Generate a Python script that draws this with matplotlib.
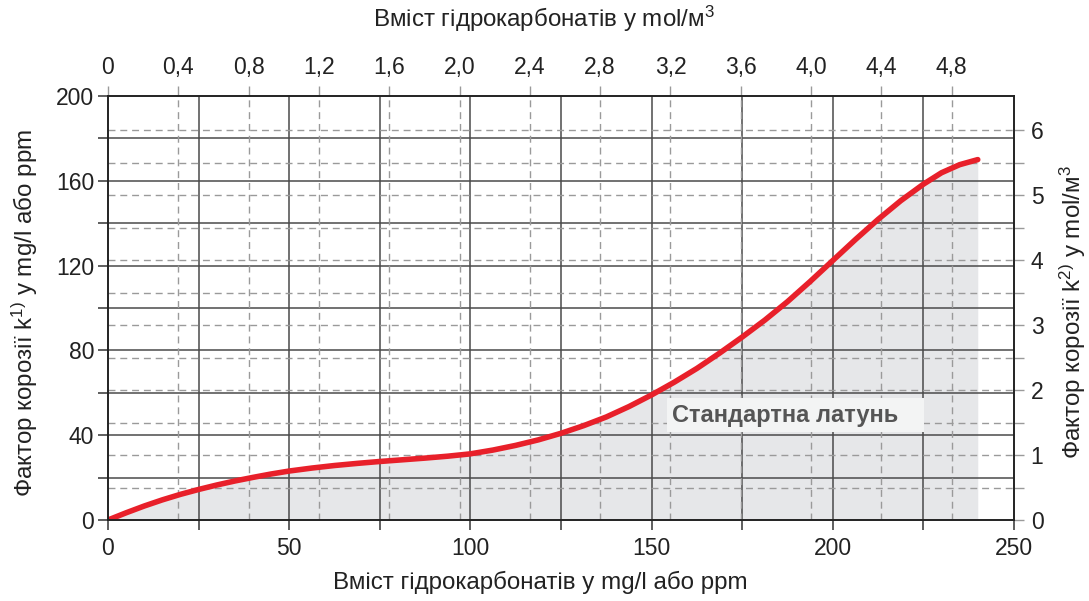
import numpy as np
import matplotlib
matplotlib.use("Agg")
import matplotlib.pyplot as plt
from matplotlib.patches import Rectangle

plt.rcParams['font.family'] = ['Liberation Sans', 'DejaVu Sans']
plt.rcParams['mathtext.fontset'] = 'custom'
plt.rcParams['mathtext.rm'] = 'Liberation Sans'
plt.rcParams['mathtext.it'] = 'Liberation Sans:italic'

# bicarbonate content (mg/l) vs corrosion factor k (mg/l), standard brass
hco3_mg = [0, 5, 10, 15, 20, 25, 30, 35, 40, 45, 50, 56.25, 62.5, 68.75, 75,
           81.25, 87.5, 93.75, 100, 106.25, 112.5, 118.75, 125, 131.25, 137.5,
           143.75, 150, 156.25, 162.5, 168.75, 175, 181.25, 187.5, 193.75, 200,
           206.25, 212.5, 218.75, 225, 230, 235, 240]
k_mg = [0, 3.4, 6.6, 9.5, 12.1, 14.4, 16.5, 18.4, 20.1, 21.7, 23.1, 24.5, 25.7,
        26.7, 27.6, 28.4, 29.2, 30.1, 31.2, 33.0, 35.2, 37.8, 40.9, 44.5, 48.6,
        53.5, 59.0, 65.0, 71.5, 78.7, 86.3, 94.3, 103.0, 112.5, 122.4,
        132.3, 141.8, 150.6, 158.4, 163.8, 167.6, 170.0]

MG_PER_MOL = 48.5      # top axis scale
K_MG_PER_MOL = 30.66   # right axis scale

top_ticks = np.arange(0, 5.0, 0.4)
top_labels = ["0", "0,4", "0,8", "1,2", "1,6", "2,0", "2,4", "2,8", "3,2",
              "3,6", "4,0", "4,4", "4,8"]
right_ticks = np.arange(0, 6.01, 0.5)
right_labels = [str(int(t)) if t == int(t) else "" for t in right_ticks]

curve_red = "#e8202a"
fill_grey = "#e6e7e9"
solid_c = "#4a4a4a"
dash_c = "#9a9a9a"
text_c = "#222222"

fig = plt.figure(figsize=(10.89, 6.01), dpi=100)
ax = fig.add_axes([108 / 1089, 1 - 520 / 601, 906 / 1089, 424 / 601])
ax.set_xlim(0, 250)
ax.set_ylim(0, 200)

# shaded area under the curve and the curve itself
ax.fill_between(hco3_mg, k_mg, 0, color=fill_grey, lw=0, zorder=0.5)
ax.plot(hco3_mg, k_mg, color=curve_red, lw=4.0, solid_capstyle='round',
        solid_joinstyle='round', zorder=4)

# solid grid in mg/l units
for xv in np.arange(25, 250, 25):
    ax.axvline(xv, color=solid_c, lw=1.1, zorder=1)
for yv in np.arange(20, 200, 20):
    ax.axhline(yv, color=solid_c, lw=1.1, zorder=1)

# dashed grid in mol/m3 units
for t in top_ticks[1:]:
    ax.axvline(t * MG_PER_MOL, color=dash_c, lw=1.0, ls=(0, (5, 3.5)), zorder=1)
for t in right_ticks[1:]:
    ax.axhline(t * K_MG_PER_MOL, color=dash_c, lw=1.0, ls=(0, (5, 3.5)), zorder=1)

for s in ax.spines.values():
    s.set_color("#222222")
    s.set_linewidth(1.4)
    s.set_zorder(5)

ax.set_xticks(np.arange(0, 251, 50))
ax.set_xticks(np.arange(25, 250, 50), minor=True)
ax.set_yticks(np.arange(0, 201, 40))
ax.set_yticks(np.arange(20, 200, 40), minor=True)
ax.tick_params(which='both', direction='out', length=7, width=1.1,
               color="#333333", labelsize=16.5, labelcolor=text_c)
ax.tick_params(axis='x', which='both', pad=5)
ax.tick_params(axis='y', which='both', pad=3)

# top axis in mol/m3
secx = ax.secondary_xaxis('top', functions=(lambda x: x / MG_PER_MOL,
                                            lambda x: x * MG_PER_MOL))
secx.set_xticks(top_ticks)
secx.set_xticklabels(top_labels)
secx.tick_params(direction='out', length=7, width=1.0, color=dash_c,
                 labelsize=16.5, labelcolor=text_c, pad=5)
secx.spines['top'].set_visible(False)

# right axis in mol/m3
secy = ax.secondary_yaxis('right', functions=(lambda y: y / K_MG_PER_MOL,
                                              lambda y: y * K_MG_PER_MOL))
secy.set_yticks(right_ticks)
secy.set_yticklabels(right_labels)
secy.tick_params(direction='out', length=7, width=1.0, color=dash_c,
                 labelsize=16.5, labelcolor=text_c, pad=5)
secy.spines['right'].set_visible(False)

# label for the brass curve
ax.add_patch(Rectangle((154.2, 41.5), 71, 16, facecolor="#f3f4f4",
                       edgecolor='none', zorder=2))
ax.text(155.6, 49.4, "Стандартна латунь", fontsize=17, fontweight='bold',
        color="#555555", va='center', ha='left', zorder=3)

fig.text(540 / 1089, 1 - 582 / 601, "Вміст гідрокарбонатів у mg/l або ppm",
         fontsize=17.4, ha='center', va='center', color=text_c)
fig.text(544 / 1089, 1 - 19 / 601, "Вміст гідрокарбонатів у mol/м$^3$",
         fontsize=17.4, ha='center', va='center', color=text_c)
fig.text(25 / 1089, 1 - 313 / 601, "Фактор корозії k$^{1)}$ у mg/l або ppm",
         fontsize=17.4, ha='center', va='center', rotation=90, color=text_c)
fig.text(1073 / 1089, 1 - 312 / 601, "Фактор корозії k$^{2)}$ у mol/м$^3$",
         fontsize=17.4, ha='center', va='center', rotation=90, color=text_c)

fig.savefig("out.png", dpi=100)
